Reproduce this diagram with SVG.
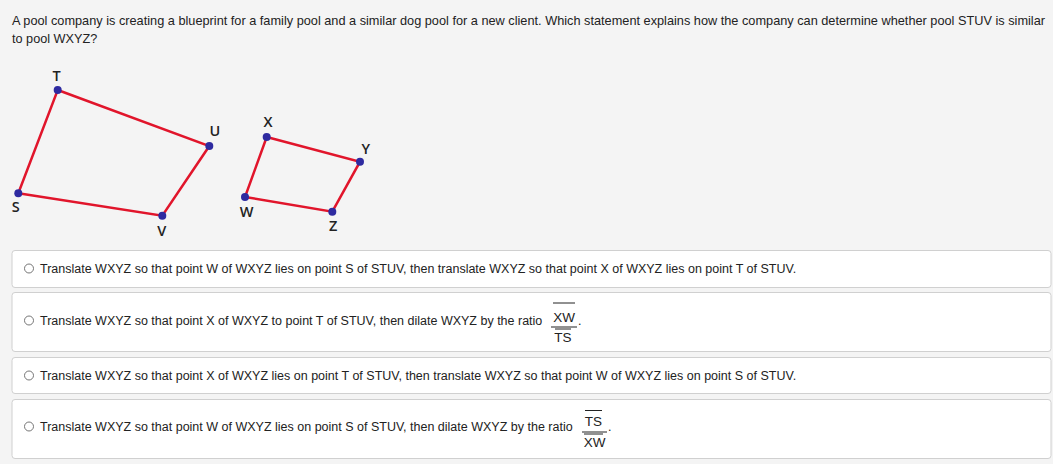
<svg xmlns="http://www.w3.org/2000/svg" width="1053" height="464" viewBox="0 0 1053 464">
<style>
.q{font-family:"Liberation Sans",Arial,sans-serif;font-size:12.7px;fill:#222}
.o{font-family:"Liberation Sans",Arial,sans-serif;font-size:12.5px;fill:#222}
.f{font-family:"Liberation Sans",Arial,sans-serif;font-size:13.5px;fill:#222;text-anchor:middle}
.lbl{font-family:"Open Sans","DejaVu Sans",sans-serif;font-size:14.5px;font-weight:600;fill:#222;text-anchor:middle}
.edge{stroke:#e1152b;stroke-width:2.5;fill:none;stroke-linecap:round}
.pt{fill:#2e2aa0}
.box{fill:#fff;stroke:#d0d0d0;stroke-width:1}
.radio{fill:none;stroke:#666;stroke-width:0.9}
.bar{stroke:#222;stroke-width:1}
</style>
<rect width="1053" height="464" fill="#f4f4f4"/>
<text class="q" x="12" y="25" textLength="1033" lengthAdjust="spacingAndGlyphs">A pool company is creating a blueprint for a family pool and a similar dog pool for a new client. Which statement explains how the company can determine whether pool STUV is similar</text>
<text class="q" x="12" y="43">to pool WXYZ?</text>
<g id="connectors">
<polygon class="edge" points="57.7,90 209.3,146 162.3,215.7 18.3,193.3"/>
<polygon class="edge" points="266.7,137 360,161.7 332.3,211.7 245,197"/>
</g>
<g id="node-T"><circle class="pt" cx="57.7" cy="90" r="4"/><text class="lbl" x="56.7" y="80.7">T</text></g>
<g id="node-U"><circle class="pt" cx="209.3" cy="146" r="4"/><text class="lbl" x="215" y="136">U</text></g>
<g id="node-V"><circle class="pt" cx="162.3" cy="215.7" r="4"/><text class="lbl" x="161.7" y="235.7">V</text></g>
<g id="node-S"><circle class="pt" cx="18.3" cy="193.3" r="4"/><text class="lbl" x="15.7" y="211.7">S</text></g>
<g id="node-X"><circle class="pt" cx="266.7" cy="137" r="4"/><text class="lbl" x="268" y="126.7">X</text></g>
<g id="node-Y"><circle class="pt" cx="360" cy="161.7" r="4"/><text class="lbl" x="365.7" y="154">Y</text></g>
<g id="node-Z"><circle class="pt" cx="332.3" cy="211.7" r="4"/><text class="lbl" x="333.3" y="230.7">Z</text></g>
<g id="node-W"><circle class="pt" cx="245" cy="197" r="4"/><text class="lbl" x="246.7" y="216.7">W</text></g>
<g id="option-1">
<rect class="box" x="12" y="250.5" width="1039" height="37" rx="3"/>
<circle class="radio" cx="29" cy="268.5" r="4.5"/>
<text class="o" x="40" y="273">Translate WXYZ so that point W of WXYZ lies on point S of STUV, then translate WXYZ so that point X of WXYZ lies on point T of STUV.</text>
</g>
<g id="option-2">
<rect class="box" x="12" y="292.5" width="1039" height="59" rx="3"/>
<circle class="radio" cx="29" cy="320.5" r="4.5"/>
<text class="o" x="40" y="325">Translate WXYZ so that point X of WXYZ to point T of STUV, then dilate WXYZ by the ratio</text>
<line class="bar" x1="553" y1="303" x2="575" y2="303"/>
<text class="f" x="564" y="321.5">XW</text>
<line class="bar" x1="551" y1="327" x2="577" y2="327"/>
<line class="bar" x1="555" y1="329" x2="571" y2="329"/>
<text class="f" x="563" y="341.5">TS</text>
<text class="o" x="578" y="325">.</text>
</g>
<g id="option-3">
<rect class="box" x="12" y="357.5" width="1039" height="36" rx="3"/>
<circle class="radio" cx="29" cy="375.5" r="4.5"/>
<text class="o" x="40" y="380">Translate WXYZ so that point X of WXYZ lies on point T of STUV, then translate WXYZ so that point W of WXYZ lies on point S of STUV.</text>
</g>
<g id="option-4">
<rect class="box" x="12" y="399.5" width="1039" height="59" rx="3"/>
<circle class="radio" cx="29" cy="426.5" r="4.5"/>
<text class="o" x="40" y="431">Translate WXYZ so that point W of WXYZ lies on point S of STUV, then dilate WXYZ by the ratio</text>
<line class="bar" x1="585" y1="410.5" x2="602" y2="410.5"/>
<text class="f" x="593.5" y="425.5">TS</text>
<line class="bar" x1="582" y1="432" x2="607" y2="432"/>
<line class="bar" x1="584" y1="434" x2="603" y2="434"/>
<text class="f" x="594.5" y="447">XW</text>
<text class="o" x="608" y="431">.</text>
</g>
</svg>
